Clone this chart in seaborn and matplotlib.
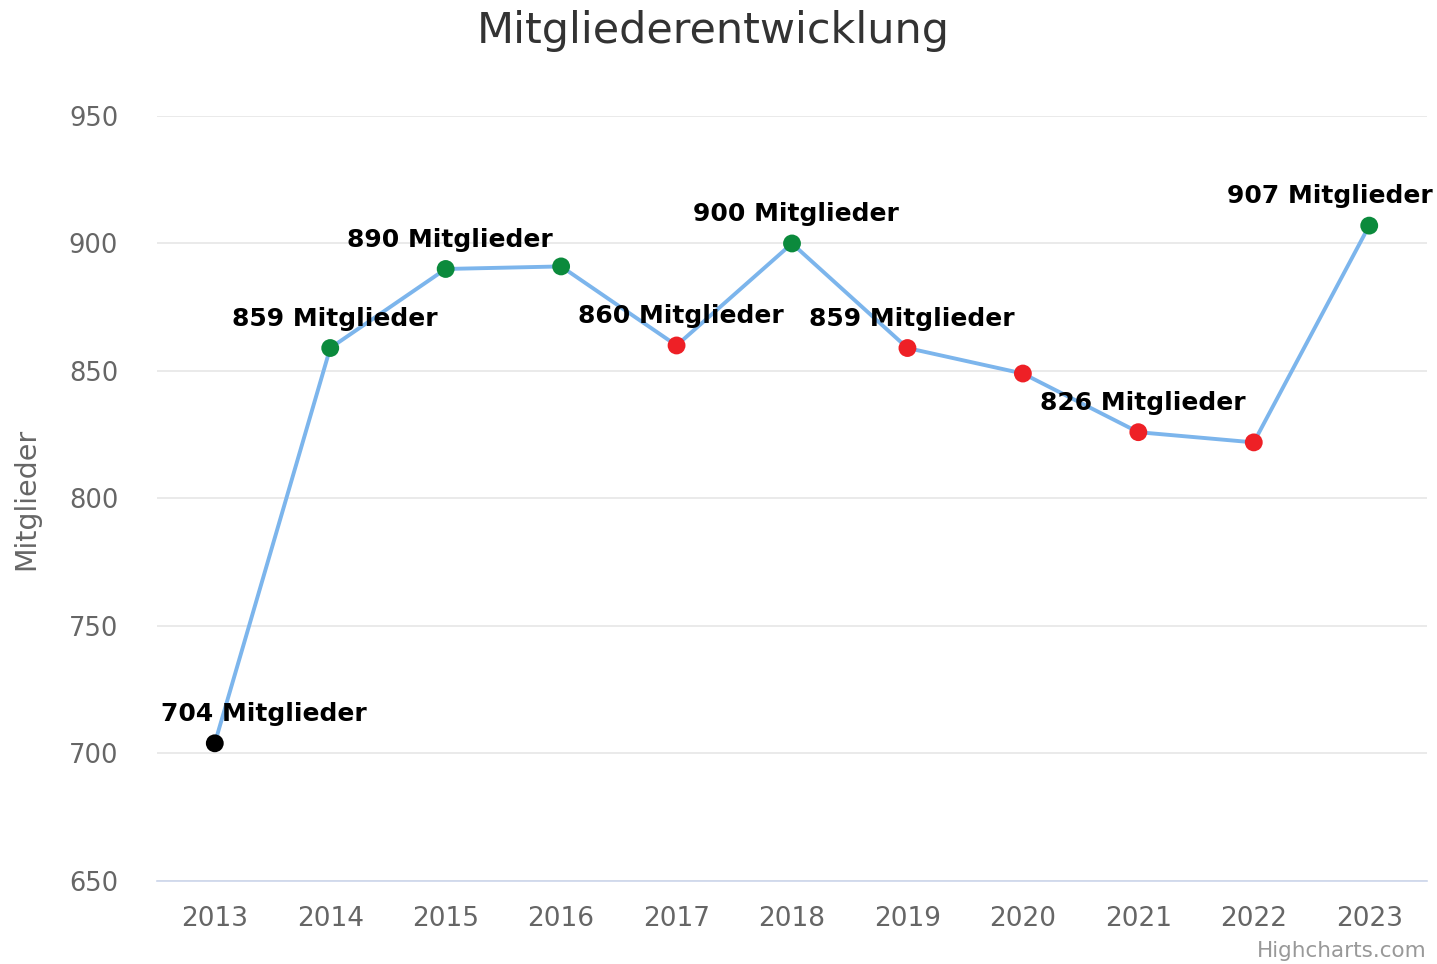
import numpy as np
import pandas as pd
import matplotlib
matplotlib.use('Agg')
import matplotlib.pyplot as plt
import seaborn as sns

sns.set_theme(style="white")
plt.rcParams['font.family'] = ['DejaVu Sans']

# Data
years = [2013, 2014, 2015, 2016, 2017, 2018, 2019, 2020, 2021, 2022, 2023]
members = [704, 859, 890, 891, 860, 900, 859, 849, 826, 822, 907]
# labels Highcharts kept visible (others hidden because of overlap)
show_label = [True, True, True, False, True, True, True, False, True, False, True]

df = pd.DataFrame({'year': years, 'members': members})
kind = ['start']
for i in range(1, len(members)):
    kind.append('up' if members[i] > members[i - 1] else 'down')
df['kind'] = kind

fig = plt.figure(figsize=(14.37, 9.64), dpi=100)
ax = fig.add_axes([0.1093, 0.0861, 0.8837, 0.7936])

sns.lineplot(data=df, x='year', y='members', color='#7cb5ec', linewidth=2.8, ax=ax, zorder=2)
sns.scatterplot(data=df, x='year', y='members', hue='kind',
                palette={'start': '#000000', 'up': '#0b8a3c', 'down': '#ee2026'},
                s=165, edgecolor='none', legend=False, ax=ax, zorder=3)

for i, (x, y) in enumerate(zip(years, members)):
    if not show_label[i]:
        continue
    ha, dx = 'center', 3
    if i == 0:
        ha, dx = 'left', -39
    elif i == len(years) - 1:
        ha, dx = 'right', 46
    ax.annotate(f'{y} Mitglieder', xy=(x, y), xytext=(dx, 21), textcoords='offset points',
                ha=ha, va='center', fontsize=18, fontweight='bold', color='#000000', zorder=4)

ax.set_xlim(2012.5, 2023.5)
ax.set_ylim(650, 950)
ax.set_xticks(years)
ax.set_yticks([650, 700, 750, 800, 850, 900, 950])
ax.yaxis.grid(True, color='#e6e6e6', linewidth=1.2)
ax.xaxis.grid(False)
for s in ['top', 'right', 'left']:
    ax.spines[s].set_visible(False)
ax.spines['bottom'].set_color('#ccd6eb')
ax.spines['bottom'].set_linewidth(1.2)
ax.tick_params(axis='x', length=0, pad=18, labelsize=19, labelcolor='#666666')
ax.tick_params(axis='y', length=0, pad=28, labelsize=18.5, labelcolor='#666666')
ax.set_xlabel('')
ax.set_ylabel('Mitglieder', fontsize=20.5, color='#666666')
ax.yaxis.set_label_coords(-0.092, 0.5)

fig.text(0.4965, 0.968, 'Mitgliederentwicklung', ha='center', va='center', fontsize=31, color='#333333')
fig.text(0.993, 0.003, 'Highcharts.com', ha='right', va='bottom', fontsize=15.5, color='#999999')

fig.savefig('out.png', dpi=100)
